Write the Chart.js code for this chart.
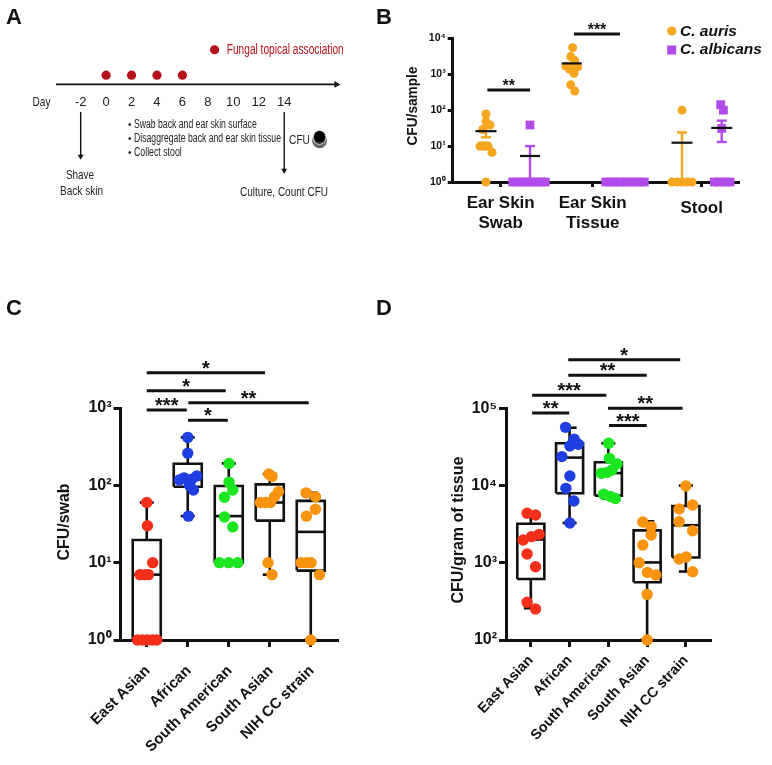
<!DOCTYPE html>
<html><head><meta charset="utf-8">
<style>
html,body{margin:0;padding:0;background:#fff;width:772px;height:765px;overflow:hidden}
canvas{position:absolute;display:block;filter:blur(0.35px)}
</style>
<script src="https://cdn.jsdelivr.net/npm/chart.js@4/dist/chart.umd.min.js"></script>
</head><body>
<canvas id="a" style="left:0;top:0" width="375" height="225"></canvas>
<canvas id="b" style="left:375px;top:0" width="397" height="240"></canvas>
<canvas id="c" style="left:0;top:290px" width="386" height="475"></canvas>
<canvas id="d" style="left:375px;top:290px" width="397" height="475"></canvas>
<script>
// ---------- Panel A ----------
const dayTicks = [-2,0,2,4,6,8,10,12,14];
const fungalDays = [0,2,4,6];

// ---------- Panel B ----------
const sampleCategories = [['Ear Skin','Swab'],['Ear Skin','Tissue'],['Stool']];
const swabAuris = [78,48,38.6,29,10,10,10,10,10,6.7,1];
const swabAurisJitter = [0,0,4,-3.3,-6,-2,2,-4,0,6,0];
const swabAlbicans = [38.6,1,1,1,1,1,1,1,1];
const swabAlbicansJitter = [0,-17.3,-12.7,-8,-3.3,1.3,6,10.7,15.3];
const tissueAuris = [5500,3100,2400,1680,1680,1600,1400,1060,510,340];
const tissueAurisJitter = [1,-1,3,-5.7,-0.7,6,-2.3,2.3,-1,3];
const tissueAlbicans = [1,1,1,1,1,1,1,1,1];
const tissueAlbicansJitter = [-19.3,-14.7,-10,-5.3,0,4.7,9.3,14,19.3];
const stoolAuris = [100,1,1,1,1,1];
const stoolAurisJitter = [0,-10,-5,0,5,10];
const stoolAlbicans = [142,100,31,1,1,1,1];
const stoolAlbicansJitter = [-1,1.7,0,-7.3,-2.3,3.3,8.3];
const sampleMeans = [26,5.3,2000,1,12.4,32];
const sampleErrLow = [17.5,1,null,null,1,13];
const sampleErrHigh = [35,10,null,null,24,51];

// ---------- Panels C and D ----------
const strainCategories = ['East Asian','African','South American','South Asian','NIH CC strain'];
const swabValues = [
  [60,30,10,7,7,7,1,1,1,1,1],
  [417,260,117,125,100,87,132,120,40],
  [192,110,87,70,39,29,10,10,10],
  [140,130,83,71,60,60,60,10,7],
  [80,71,49,40,10,10,10,7,1]
];
const swabJitter = [
  [0,.7,6,-6.7,-1.7,1.7,-9.3,-4.3,.7,5.7,10],
  [0,0,-8.3,-3.7,1.7,5.7,9,4,.7],
  [.3,.3,4,-4.3,-4.3,4,-9.3,0,9],
  [-1,2.3,8.7,4.7,-9.3,-4.3,.7,-1.7,2.3],
  [-4.7,4.7,4.7,-4.3,-9.7,-4,.3,8.7,0]
];
const swabMin = [1,40,10,7,1];
const swabQ1 = [1,96,10,35,7.9];
const swabMedian = [7,120,40,60,25];
const swabQ3 = [19.6,190,98,103,63];
const swabMax = [60,417,192,140,80];
const swabSigFrom = [0,0,0,1.016,1.008];
const swabSigTo = [2.886,1.927,.976,3.951,1.976];
const swabSigLevel = [2864,1675,942,1172,693];
const swabSigStars = ['*','*','***','**','*'];

const tissueValues = [
  [4370,4160,2330,2180,1970,1300,890,308,252],
  [56700,39800,32500,34200,23700,13300,9200,6300,3270],
  [35200,22500,19000,15900,14400,14800,7700,7200,6800],
  [3370,2940,2290,1700,1000,750,695,390,100],
  [9860,5600,4970,3400,2600,1120,1190,767]
];
const tissueJitter = [
  [-3.7,4.7,8.3,.7,-7.7,-3.7,4.7,-3.7,4.7],
  [-4,4.7,.3,8.7,-7.7,.3,-3.7,4.3,.3],
  [.3,1,8.7,3.7,-7,-1.3,-4.7,2,7],
  [-4.3,4,4,-4.3,-8,.3,8.7,0,0],
  [0,6.7,-6.7,-6.7,6.7,-6.7,.3,6.7]
];
const tissueMin = [258,3270,6800,100,770];
const tissueQ1 = [616,7950,7400,560,1170];
const tissueMedian = [2000,23000,14500,1010,3060];
const tissueQ3 = [3200,35200,20000,2630,5430];
const tissueMax = [4370,56000,35200,3440,10000];
const tissueSigFrom = [.966,.966,.034,.034,1.99,2.017];
const tissueSigTo = [3.853,2.99,1.948,.989,3.914,2.991];
const tissueSigLevel = [426600,267300,147200,87100,100000,59700];
const tissueSigStars = ['*','**','***','**','**','***'];

const strainColors = ['#F5301A','#1F3FE0','#1BE620','#F7930F','#F7930F'];
const AURIS = '#F5A51E', ALBICANS = '#B04BEA', INK = '#111', FUNGAL = '#B5121B', TEXT_A = '#222';
const ARIAL = '"Liberation Sans", Arial, sans-serif';

Chart.defaults.animation = false;
Chart.defaults.responsive = false;
Chart.defaults.events = [];

function seg(pts, color, width, order){
  return {type:'scatter', showLine:true, data:pts.map(p=>({x:p[0],y:p[1]})), borderColor:color, borderWidth:width,
    backgroundColor:color, pointRadius:0, clip:false, order:order, tension:0, borderJoinStyle:'miter', borderCapStyle:'butt'};
}
function dots(pts, color, r, style, order, rotation){
  return {type:'scatter', data:pts, backgroundColor:color, borderWidth:0, pointRadius:r, pointStyle:style||'circle', pointRotation:rotation||0, clip:false, order:order};
}
function textPlugin(itemsFn){
  return {
    id:'panelText',
    afterDraw(chart){
      const ctx = chart.ctx;
      itemsFn(chart).forEach(t=>{
        ctx.save();
        ctx.font = t.font; ctx.fillStyle = t.color||INK;
        ctx.textBaseline = t.base||'middle'; ctx.textAlign = t.align||'left';
        ctx.translate(t.x,t.y);
        if(t.rot) ctx.rotate(t.rot);
        if(t.w){ const m=t.w/ctx.measureText(t.s).width; ctx.scale(m,1); }
        ctx.fillText(t.s,0,0);
        ctx.restore();
      });
    }
  };
}
const SUP = '⁰¹²³⁴⁵';
function logAxis(min,max,powers,fontSize,width,tick,lw){
  return {type:'logarithmic',min,max,
    afterBuildTicks:s=>{s.ticks=powers.map(v=>({value:v}));},
    afterFit:s=>{s.width=width;s.paddingTop=0;s.paddingBottom=0;},
    ticks:{autoSkip:false,maxRotation:0,padding:2,color:INK,font:{family:ARIAL,weight:'bold',size:fontSize},
      callback:v=>'10'+SUP[Math.round(Math.log10(v))]},
    grid:{drawOnChartArea:false,drawTicks:true,tickLength:tick,lineWidth:lw,color:INK,tickColor:INK},
    border:{width:lw,color:INK}};
}
function strainXAxis(height,fontSize,rotation,padding,labelShift){
  return {type:'linear',min:-.64,max:4.64,
    afterBuildTicks:s=>{s.ticks=strainCategories.map((c,i)=>({value:i}));},
    afterFit:s=>{s.height=height;s.paddingLeft=0;s.paddingRight=0;},
    ticks:{autoSkip:false,minRotation:rotation,maxRotation:rotation,padding,labelOffset:labelShift,color:INK,
      font:{family:ARIAL,weight:'bold',size:fontSize},callback:v=>strainCategories[v]},
    grid:{drawOnChartArea:false,tickLength:7,lineWidth:3,color:INK,tickColor:INK},
    border:{width:3,color:INK}};
}
function boxDatasets(values,jitter,mins,q1,med,q3,maxs,from,to,level,spacing,halfBox){
  const out=[];
  const hw=halfBox/spacing, cap=7/spacing;
  values.forEach((vals,i)=>{
    out.push(dots(vals.map((y,k)=>({x:i+jitter[i][k]/spacing,y})),strainColors[i],5.7,'circle',0));
    out.push(seg([[i-hw,q1[i]],[i+hw,q1[i]],[i+hw,q3[i]],[i-hw,q3[i]],[i-hw,q1[i]]],INK,2.6,1));
    out.push(seg([[i-hw,med[i]],[i+hw,med[i]]],INK,2.6,1));
    out.push(seg([[i,q3[i]],[i,maxs[i]]],INK,2.6,1));
    out.push(seg([[i,q1[i]],[i,mins[i]]],INK,2.6,1));
    out.push(seg([[i-cap,maxs[i]],[i+cap,maxs[i]]],INK,2.6,1));
    out.push(seg([[i-cap,mins[i]],[i+cap,mins[i]]],INK,2.6,1));
  });
  level.forEach((y,k)=>out.push(seg([[from[k],y],[to[k],y]],INK,3,1)));
  return out;
}
function starItems(chart,from,to,level,stars,size,drop){
  const X=chart.scales.x,Y=chart.scales.y;
  return stars.map((s,k)=>({s,font:`bold ${size}px ${ARIAL}`,align:'center',base:'alphabetic',
    x:(X.getPixelForValue(from[k])+X.getPixelForValue(to[k]))/2,y:Y.getPixelForValue(level[k])+drop}));
}
const LETTER = `bold 22px ${ARIAL}`;
const NO_CHROME = {legend:{display:false},tooltip:{enabled:false}};

// ---------- Panel A chart ----------
const A_END = 18.31, A_START = -3.94;
const sans = s => `${s}px ${ARIAL}`;
new Chart(document.getElementById('a'),{
  type:'scatter',
  data:{datasets:[
    dots(fungalDays.map(d=>({x:d,y:.207})),FUNGAL,4.6,'circle',0),
    dots([{x:8.53,y:.78}],FUNGAL,4.6,'circle',0),
    seg([[A_START,0],[A_END-.3,0]],INK,1.8,1),
    dots([{x:A_END-.2,y:0}],INK,4,'triangle',1,90),
    seg([[-2,-.62],[-2,-1.62]],INK,1.4,1),
    seg([[14,-.62],[14,-1.94]],INK,1.4,1),
    dots([{x:-2,y:-1.62}],INK,3.4,'triangle',1,180),
    dots([{x:14,y:-1.94}],INK,3.4,'triangle',1,180),
    dots([{x:16.78,y:-1.27}],'#666',7.4,'circle',4),
    dots([{x:16.78,y:-1.2}],'#ddd',7,'circle',3),
    dots([{x:16.78,y:-1.21}],'#333',6,'circle',2),
    dots([{x:16.78,y:-1.17}],'#000',5.6,'circle',1)
  ]},
  options:{
    layout:{padding:{left:56,right:36,top:40,bottom:5}},
    plugins:NO_CHROME,
    scales:{
      x:{type:'linear',min:A_START,max:A_END,position:{y:0},
        afterBuildTicks:s=>{s.ticks=dayTicks.map(v=>({value:v}));},
        ticks:{autoSkip:false,maxRotation:0,padding:10,color:TEXT_A,font:{family:ARIAL,size:13}},
        grid:{display:false,drawTicks:false,tickLength:0},border:{display:false}},
      y:{type:'linear',min:-3,max:1,display:false}
    }
  },
  plugins:[textPlugin(()=>[
    {s:'A',x:6,y:18,font:LETTER},
    {s:'Fungal topical association',x:226.7,y:50,w:117,font:sans(14),color:FUNGAL},
    {s:'Day',x:32.5,y:102,w:18,font:sans(13.5),color:TEXT_A},
    {s:'•',x:128,y:125,font:sans(10),color:TEXT_A},
    {s:'•',x:128,y:139,font:sans(10),color:TEXT_A},
    {s:'•',x:128,y:153,font:sans(10),color:TEXT_A},
    {s:'Swab back and ear skin surface',x:134,y:125,w:122.7,font:sans(12),color:TEXT_A},
    {s:'Disaggregate back and ear skin tissue',x:134,y:139,w:147,font:sans(12),color:TEXT_A},
    {s:'Collect stool',x:134,y:153,w:47.7,font:sans(12),color:TEXT_A},
    {s:'Shave',x:66,y:175,w:28,font:sans(13.5),color:TEXT_A},
    {s:'Back skin',x:60,y:191,w:43,font:sans(13.5),color:TEXT_A},
    {s:'Culture, Count CFU',x:240,y:192,w:88,font:sans(13.5),color:TEXT_A},
    {s:'CFU',x:289,y:140,w:21,font:sans(13.5),color:TEXT_A}
  ])]
});

// ---------- Panel B chart ----------
const B_TICKS=[48,140,249], B_GROUPS=[33.3,77.3,119,172.3,229.3,269];
const jit=(vals,j,center)=>vals.map((y,k)=>({x:center+j[k],y}));
function meanErr(g,color,halfMean,halfCap){
  const c=B_GROUPS[g], out=[seg([[c-halfMean,sampleMeans[g]],[c+halfMean,sampleMeans[g]]],INK,2.2,0)];
  if(sampleErrHigh[g]!==null){
    out.push(seg([[c,sampleErrLow[g]],[c,sampleErrHigh[g]]],color,2.4,1));
    out.push(seg([[c-halfCap,sampleErrHigh[g]],[c+halfCap,sampleErrHigh[g]]],color,2.4,1));
    if(sampleErrLow[g]>1) out.push(seg([[c-halfCap,sampleErrLow[g]],[c+halfCap,sampleErrLow[g]]],color,2.4,1));
  }
  return out;
}
const B_SIG_FROM=[34.7,121.3],B_SIG_TO=[77.3,167.3],B_SIG_LEVEL=[364,13200],B_SIG_STARS=['**','***'];
new Chart(document.getElementById('b'),{
  type:'scatter',
  data:{datasets:[
    ...meanErr(0,AURIS,10.5,5),
    ...meanErr(1,ALBICANS,10,5),
    ...meanErr(4,AURIS,10.5,5),
    ...meanErr(5,ALBICANS,10.5,5),
    seg([[B_GROUPS[2]-10,sampleMeans[2]],[B_GROUPS[2]+10,sampleMeans[2]]],INK,2.2,0),
    dots(jit(swabAuris,swabAurisJitter,B_GROUPS[0]),AURIS,4.5,'circle',2),
    dots(jit(swabAlbicans,swabAlbicansJitter,B_GROUPS[1]),ALBICANS,6.2,'rect',2),
    dots(jit(tissueAuris,tissueAurisJitter,B_GROUPS[2]),AURIS,4.5,'circle',2),
    dots(jit(tissueAlbicans,tissueAlbicansJitter,B_GROUPS[3]),ALBICANS,6.2,'rect',2),
    dots(jit(stoolAuris,stoolAurisJitter,B_GROUPS[4]),AURIS,4.5,'circle',2),
    dots(jit(stoolAlbicans,stoolAlbicansJitter,B_GROUPS[5]),ALBICANS,6.2,'rect',2),
    seg([[B_SIG_FROM[0],B_SIG_LEVEL[0]],[B_SIG_TO[0],B_SIG_LEVEL[0]]],INK,3,1),
    seg([[B_SIG_FROM[1],B_SIG_LEVEL[1]],[B_SIG_TO[1],B_SIG_LEVEL[1]]],INK,3,1)
  ]},
  options:{
    layout:{padding:{left:0,right:34,top:38.3,bottom:0}},
    plugins:NO_CHROME,
    scales:{
      x:{type:'linear',min:0,max:285.3,
        afterBuildTicks:s=>{s.ticks=B_TICKS.map(v=>({value:v}));},
        afterFit:s=>{s.height=58;s.paddingLeft=0;s.paddingRight=0;},
        ticks:{autoSkip:false,maxRotation:0,minRotation:0,padding:7,color:INK,
          font:c=>({family:ARIAL,weight:'bold',size:17,lineHeight:c.index===2?'29px':'19.5px'}),
          callback:(v)=>sampleCategories[B_TICKS.indexOf(v)]},
        grid:{drawOnChartArea:false,tickLength:5,lineWidth:3,color:INK,tickColor:INK},
        border:{width:3,color:INK}},
      y:logAxis(1,10000,[1,10,100,1000,10000],10.5,77.7,5,3)
    }
  },
  plugins:[textPlugin(ch=>[
    {s:'B',x:1,y:18,font:LETTER},
    {s:'CFU/sample',x:38,y:106,w:79,rot:-Math.PI/2,align:'center',font:`bold 14px ${ARIAL}`},
    {s:'C. auris',x:305,y:32,font:`italic bold 15.5px ${ARIAL}`},
    {s:'C. albicans',x:305,y:50,font:`italic bold 15.5px ${ARIAL}`},
    ...starItems(ch,B_SIG_FROM,B_SIG_TO,B_SIG_LEVEL,B_SIG_STARS,16,1)
  ]),{id:'bLegend',afterDraw(ch){
    const ctx=ch.ctx;ctx.save();ctx.fillStyle=AURIS;ctx.beginPath();ctx.arc(296.7,31,4.6,0,7);ctx.fill();
    ctx.fillStyle=ALBICANS;ctx.fillRect(292.2,45.5,9,9);ctx.restore();}}]
});

// ---------- Panel C chart ----------
new Chart(document.getElementById('c'),{
  type:'scatter',
  data:{datasets:boxDatasets(swabValues,swabJitter,swabMin,swabQ1,swabMedian,swabQ3,swabMax,swabSigFrom,swabSigTo,swabSigLevel,41,14)},
  options:{
    layout:{padding:{left:0,right:49,top:118,bottom:0}},
    plugins:NO_CHROME,
    scales:{x:strainXAxis(125,15,45,15,1),y:logAxis(1,1000,[1,10,100,1000],16,120.5,7,3)}
  },
  plugins:[textPlugin(ch=>[
    {s:'C',x:6,y:19,font:LETTER},
    {s:'CFU/swab',x:65,y:232,w:77,rot:-Math.PI/2,align:'center',font:`bold 16px ${ARIAL}`},
    ...starItems(ch,swabSigFrom,swabSigTo,swabSigLevel,swabSigStars,20,2)
  ])]
});

// ---------- Panel D chart ----------
new Chart(document.getElementById('d'),{
  type:'scatter',
  data:{datasets:boxDatasets(tissueValues,tissueJitter,tissueMin,tissueQ1,tissueMedian,tissueQ3,tissueMax,tissueSigFrom,tissueSigTo,tissueSigLevel,38.7,13.5)},
  options:{
    layout:{padding:{left:0,right:61.3,top:118.3,bottom:0}},
    plugins:NO_CHROME,
    scales:{x:strainXAxis(125,14.3,47,5,0),y:logAxis(100,100000,[100,1000,10000,100000],16,131,7,3)}
  },
  plugins:[textPlugin(ch=>[
    {s:'D',x:1,y:19,font:LETTER},
    {s:'CFU/gram of tissue',x:84,y:240,w:147,rot:-Math.PI/2,align:'center',font:`bold 16px ${ARIAL}`},
    ...starItems(ch,tissueSigFrom,tissueSigTo,tissueSigLevel,tissueSigStars,20,2)
  ])]
});
</script>
</body></html>
